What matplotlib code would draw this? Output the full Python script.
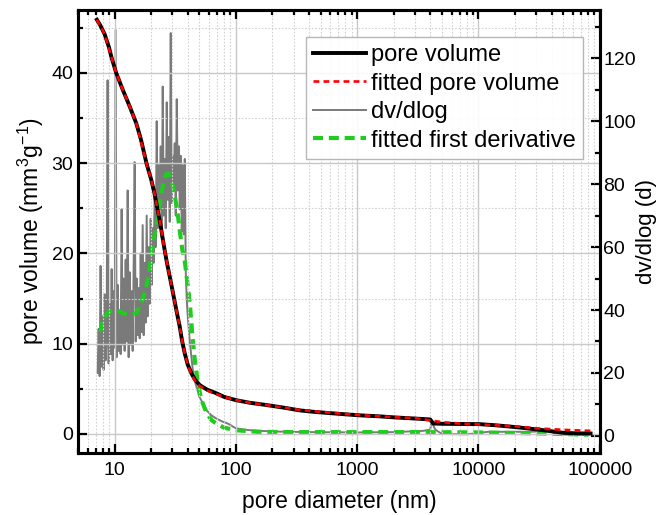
import matplotlib
matplotlib.use('Agg')
import matplotlib.pyplot as plt
from matplotlib.ticker import FixedLocator, FixedFormatter, LogLocator, MultipleLocator, NullFormatter

plt.rcParams['font.family'] = ['Liberation Sans', 'DejaVu Sans']
plt.rcParams['mathtext.fontset'] = 'custom'
plt.rcParams['mathtext.rm'] = 'Liberation Sans'
plt.rcParams['mathtext.it'] = 'Liberation Sans:italic'
plt.rcParams['axes.unicode_minus'] = False

# ---------------- data ----------------
pv_d = [7.14, 7.6, 8.27, 9.0, 9.39, 10.3, 11.7, 13.3, 15.1, 16.5, 18.3, 20.0, 21.2,
        22.5, 24.0, 25.3, 26.7, 28.5, 30.3, 32.3, 34.4, 36.0, 37.9, 40.0, 43.0, 46.0,
        50.4, 58, 69, 80, 100, 130, 178, 250, 338, 450, 598, 1000, 1500, 2075, 3000,
        4000, 4100, 4250, 5000, 7000, 10200, 14000, 19200, 25000, 34300, 42000, 50500,
        65000, 84000]
pv_v = [45.9, 45.3, 44.3, 42.8, 41.8, 40.0, 38.1, 36.3, 34.4, 32.6, 30.0, 28.2, 26.8,
        25.0, 23.0, 21.1, 19.3, 17.4, 15.6, 13.7, 11.9, 10.3, 8.9, 7.7, 6.7, 6.0,
        5.4, 4.9, 4.5, 4.1, 3.74, 3.45, 3.2, 2.9, 2.6, 2.43, 2.3, 2.07, 1.95, 1.82, 1.7,
        1.6, 1.4, 1.15, 1.12, 1.1, 1.08, 0.95, 0.78, 0.62, 0.41, 0.25, 0.11,
        0.06, 0.04]

fit_pv_d = [7.14, 8.27, 9.39, 10.3, 11.7, 13.3, 15.1, 18.3, 20.0, 21.2, 22.5, 24.0,
            25.3, 26.7, 28.5, 30.3, 32.3, 34.4, 36.0, 37.9, 40.0, 43.0, 46.0, 50.4, 58,
            69, 80, 100, 130, 178, 250, 338, 598, 1000, 2000, 3000, 4000, 5000, 7000,
            10000, 20000, 30000, 50000, 84000]
fit_pv_v = [45.9, 44.3, 41.8, 40.0, 38.1, 36.3, 34.4, 30.0, 28.2, 26.8, 25.0, 23.0,
            21.1, 19.3, 17.4, 15.6, 13.7, 11.9, 10.3, 8.9, 7.7, 6.6, 5.9, 5.3, 4.8,
            4.4, 4.1, 3.75, 3.45, 3.2, 2.9, 2.65, 2.35, 2.1, 1.85, 1.75, 1.5, 1.3, 1.15,
            1.05, 0.85, 0.62, 0.45, 0.33]

dv_d = [7.24, 7.38, 7.52, 7.66, 7.81, 7.96, 8.11, 8.27, 8.43, 8.59, 8.75, 8.92, 9.09,
        9.27, 9.45, 9.63, 9.81, 10.00, 10.19, 10.39, 10.59, 10.79, 11.00, 11.21, 11.42,
        11.64, 11.87, 12.09, 12.33, 12.56, 12.81, 13.05, 13.30, 13.56, 13.82, 14.08,
        14.35, 14.63, 14.91, 15.19, 15.49, 15.78, 16.09, 16.40, 16.71, 17.03, 17.36,
        17.69, 18.03, 18.38, 18.73, 19.09, 19.46, 19.83, 20.21, 20.60, 21.00, 21.40,
        21.81, 22.23, 22.66, 23.09, 23.54, 23.99, 24.45, 24.92, 25.40, 25.89, 26.38,
        26.89, 27.41, 27.93, 28.47, 29.01, 29.57, 30.14, 30.72, 31.31, 31.91, 32.52,
        33.15, 33.78, 34.43, 35.09, 35.77, 36.45, 37.15, 37.87, 38.60, 39.34, 40.09,
        40.86, 41.65, 42.45, 43.26, 44.09, 44.94, 45.80,
        50, 54, 57, 63, 69, 78, 86, 100, 130, 200, 400, 1000, 2000, 3500, 4000, 4100,
        4400, 5000, 8000, 12000, 25000, 40000, 50000, 80000]
dv_v = [20, 34, 19, 54, 22, 38, 21, 45, 24, 30, 113, 23, 42,
        26, 53, 24, 46, 28, 129, 25, 48, 27, 40, 26, 72,
        29, 50, 27, 56, 30, 78, 25, 52, 29, 46, 27,
        54, 87, 30, 50, 32, 47, 31, 58, 33, 67, 32,
        55, 36, 70, 38, 60, 42, 69, 48, 66, 55, 78,
        60, 100, 66, 86, 72, 92, 63, 111, 70, 88, 66,
        106, 75, 95, 68, 128, 74, 89, 80, 93, 70, 107,
        78, 92, 72, 89, 65, 86, 64, 88, 52, 43, 38,
        34, 30, 27, 24, 21, 19, 17.5,
        12.4, 10, 8.2, 6.5, 5.5, 4.5, 3.9, 2.4, 1.8, 1.4, 1.2, 1.1, 1.2, 1.6, 2.0, 4.5,
        2.0, 0.6, 0.5, 1.3, 1.3, 1.5, 0.4, 0.3]

fit_dv_d = [7.6, 8.0, 9.0, 10.0, 11.0, 12.0, 13.0, 14.0, 15.2, 16.2, 17.3, 18.2, 19.0,
            19.5, 20.2, 20.7, 21.5, 22.1, 22.9, 23.5, 24.3, 25.1, 25.9, 26.7, 28.0, 29.4,
            31.3, 33.0, 34.5, 36.2, 37.9, 40.0, 41.7, 43.5, 45.8, 49.0, 52.0, 57.0, 63.0,
            69.0, 80.0, 100, 150, 300, 1000, 3000, 10000, 30000, 80000]
fit_dv_v = [33, 37, 39.5, 40, 39.5, 38.8, 38.5, 38.6, 39.2, 41.5, 44.2, 47.5, 50.6,
            53.5, 58, 61.2, 64.4, 66.5, 70.7, 73.5, 77, 80, 82, 83.2, 83.3, 81.3,
            76.5, 71, 65, 59, 55.5, 48, 42, 33, 24, 16, 11.4, 7.5, 5,
            3.9, 2.6, 1.8, 1.3, 1.2, 1.2, 1.2, 1.1, 0.8, 0.4]

x_ticks = [10, 100, 1000, 10000, 100000]
x_tick_labels = ['10', '100', '1000', '10000', '100000']
left_ticks = [0, 10, 20, 30, 40]
right_ticks = [0, 20, 40, 60, 80, 100, 120]

# ---------------- figure ----------------
fig = plt.figure(figsize=(6.62, 5.15), dpi=100)
fig.patch.set_facecolor('white')
ax = fig.add_axes([0.118, 0.120, 0.788, 0.861])
ax2 = ax.twinx()
ax.set_zorder(ax2.get_zorder() + 1)
ax.patch.set_visible(False)

ax.set_xscale('log')
ax.set_xlim(5, 100000)
ax.set_ylim(-2.14, 47.0)
ax2.set_ylim(-5.5, 135.4)

gray_line, = ax2.plot(dv_d, dv_v, color='#7a7a7a', lw=1.4, label='dv/dlog')
green_line, = ax2.plot(fit_dv_d, fit_dv_v, color='#1fcc1f', lw=3.0, dashes=(2.4, 1.4),
                       label='fitted first derivative')
black_line, = ax.plot(pv_d, pv_v, color='black', lw=2.8, label='pore volume')
red_line, = ax.plot(fit_pv_d, fit_pv_v, color='#ff0000', lw=1.9, dashes=(2.2, 1.6),
                    label='fitted pore volume')

# grid
ax.grid(True, which='major', color='#c8c8c8', lw=1.0, ls='-', zorder=0)
ax.grid(True, which='minor', color='#d2d2d2', lw=0.8, ls=(0, (1.5, 1.5)), zorder=0)

# ticks
ax.xaxis.set_major_locator(FixedLocator(x_ticks))
ax.xaxis.set_major_formatter(FixedFormatter(x_tick_labels))
ax.xaxis.set_minor_locator(LogLocator(base=10, subs=[2, 3, 4, 5, 6, 7, 8, 9], numticks=20))
ax.xaxis.set_minor_formatter(NullFormatter())
ax.yaxis.set_major_locator(FixedLocator(left_ticks))
ax.yaxis.set_minor_locator(MultipleLocator(5))
ax2.yaxis.set_major_locator(FixedLocator(right_ticks))
ax2.yaxis.set_minor_locator(MultipleLocator(10))

ax.tick_params(which='both', direction='in', top=True, right=False, labelsize=14, width=1.6)
ax.tick_params(which='major', length=6.5)
ax.tick_params(which='minor', length=3.5)
ax2.tick_params(which='both', direction='in', labelsize=14, width=1.6, pad=2.5)
ax2.tick_params(which='major', length=6.5)
ax2.tick_params(which='minor', length=3.5)
ax.tick_params(axis='x', pad=6)

for a in (ax, ax2):
    for s in a.spines.values():
        s.set_linewidth(2.2)

ax.set_xlabel('pore diameter (nm)', fontsize=16.5, labelpad=8)
ax.set_ylabel('pore volume (mm$^3$g$^{-1}$)', fontsize=16.5, labelpad=4)
ax2.set_ylabel('dv/dlog (d)', fontsize=16, labelpad=0)

leg = ax.legend(handles=[black_line, red_line, gray_line, green_line],
                loc='upper right', bbox_to_anchor=(0.967, 0.939), borderaxespad=0,
                fontsize=17, fancybox=False, framealpha=0.9, edgecolor='#b0b0b0',
                handlelength=2.25, handletextpad=0.2, labelspacing=0.28, borderpad=0.3)
leg.get_frame().set_linewidth(1.0)

fig.savefig('out.png', dpi=100, facecolor='white')
